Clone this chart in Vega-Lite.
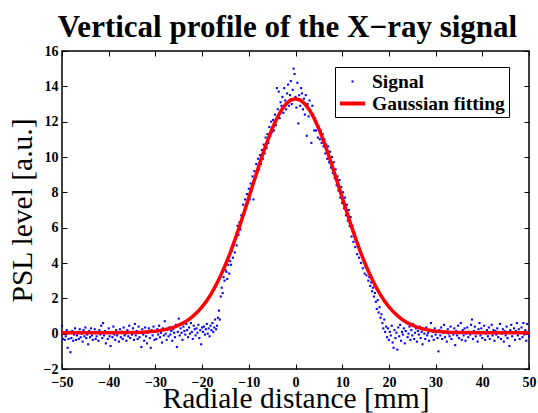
{
"$schema": "https://vega.github.io/schema/vega-lite/v6.json",
"width": 467, "height": 318,
"autosize": {"type": "none"},
"padding": {"left": 62, "top": 51, "right": 9, "bottom": 44},
"background": "white",
"title": {"text": "Vertical profile of the X−ray signal", "font": "Liberation Serif", "fontSize": 31, "fontWeight": "bold", "color": "black", "anchor": "middle", "dx": -8, "offset": 0},
"config": {
  "view": {"stroke": "black", "strokeWidth": 1.5},
  "axis": {"grid": false, "domain": false, "tickSize": -5, "tickColor": "black", "tickWidth": 1, "labelFont": "Liberation Serif", "labelFontSize": 14, "labelFontWeight": "bold", "labelColor": "black", "labelFlush": false, "labelOverlap": false, "titleFont": "Liberation Serif", "titleFontSize": 29.5, "titleFontWeight": "normal", "titleColor": "black"}
},
"datasets": {
"signal": [
{"x":-50,"y":0.45},{"x":-49.8,"y":-0.3},{"x":-49.6,"y":0.05},{"x":-49.4,"y":-0.35},{"x":-49.2,"y":-0.15},{"x":-49,"y":0.2},{"x":-48.8,"y":-0.8},{"x":-48.6,"y":-0.3},{"x":-48.4,"y":0.1},{"x":-48.2,"y":-1.05},
{"x":-48,"y":-0.25},{"x":-47.8,"y":0.15},{"x":-47.6,"y":-0.4},{"x":-47.4,"y":-0.05},{"x":-47.2,"y":0.3},{"x":-47,"y":-0.35},{"x":-46.8,"y":-0.1},{"x":-46.6,"y":0.1},{"x":-46.4,"y":-0.3},{"x":-46.2,"y":0.25},
{"x":-46,"y":-0.2},{"x":-45.8,"y":0},{"x":-45.6,"y":-0.45},{"x":-45.4,"y":0.2},{"x":-45.2,"y":-0.15},{"x":-45,"y":0.35},{"x":-44.8,"y":-0.25},{"x":-44.6,"y":-0.05},{"x":-44.4,"y":-0.6},{"x":-44.2,"y":0.15},
{"x":-44,"y":-0.2},{"x":-43.8,"y":0.3},{"x":-43.6,"y":-0.1},{"x":-43.4,"y":-0.35},{"x":-43.2,"y":0.05},{"x":-43,"y":0.25},{"x":-42.8,"y":-0.3},{"x":-42.6,"y":-0.15},{"x":-42.4,"y":0.1},{"x":-42.2,"y":-0.4},
{"x":-42,"y":0.2},{"x":-41.8,"y":-0.05},{"x":-41.6,"y":0.45},{"x":-41.4,"y":-0.25},{"x":-41.2,"y":0.6},{"x":-41,"y":-0.1},{"x":-40.8,"y":0.15},{"x":-40.6,"y":-0.55},{"x":-40.4,"y":0.05},{"x":-40.2,"y":-0.3},
{"x":-40,"y":0.3},{"x":-39.8,"y":-0.15},{"x":-39.6,"y":-0.7},{"x":-39.4,"y":0.1},{"x":-39.2,"y":-0.2},{"x":-39,"y":0.4},{"x":-38.8,"y":-0.05},{"x":-38.6,"y":-0.35},{"x":-38.4,"y":0.2},{"x":-38.2,"y":-0.1},
{"x":-38,"y":0.05},{"x":-37.8,"y":-0.45},{"x":-37.6,"y":0.25},{"x":-37.4,"y":-0.2},{"x":-37.2,"y":0.1},{"x":-37,"y":-0.3},{"x":-36.8,"y":0.35},{"x":-36.6,"y":-0.1},{"x":-36.4,"y":0},{"x":-36.2,"y":-0.4},
{"x":-36,"y":0.2},{"x":-35.8,"y":-0.15},{"x":-35.6,"y":0.45},{"x":-35.4,"y":-0.25},{"x":-35.2,"y":0.05},{"x":-35,"y":-0.05},{"x":-34.8,"y":0.3},{"x":-34.6,"y":-0.35},{"x":-34.4,"y":0.55},{"x":-34.2,"y":-0.1},
{"x":-34,"y":0.15},{"x":-33.8,"y":-0.3},{"x":-33.6,"y":0.4},{"x":-33.4,"y":-0.2},{"x":-33.2,"y":0.1},{"x":-33,"y":-0.75},{"x":-32.8,"y":0.25},{"x":-32.6,"y":-0.05},{"x":-32.4,"y":-0.4},{"x":-32.2,"y":0.35},
{"x":-32,"y":-0.15},{"x":-31.8,"y":-0.55},{"x":-31.6,"y":0.05},{"x":-31.4,"y":0.3},{"x":-31.2,"y":-0.25},{"x":-31,"y":-0.8},{"x":-30.8,"y":0.2},{"x":-30.6,"y":-0.1},{"x":-30.4,"y":0.4},{"x":-30.2,"y":-0.35},
{"x":-30,"y":0.1},{"x":-29.8,"y":-0.3},{"x":-29.6,"y":0.25},{"x":-29.4,"y":-0.05},{"x":-29.2,"y":0.45},{"x":-29,"y":-0.2},{"x":-28.8,"y":0.05},{"x":-28.6,"y":-0.5},{"x":-28.4,"y":0.3},{"x":-28.2,"y":-0.1},
{"x":-28,"y":0.7},{"x":-27.8,"y":0},{"x":-27.6,"y":-0.35},{"x":-27.4,"y":0.2},{"x":-27.2,"y":-0.15},{"x":-27,"y":0.35},{"x":-26.8,"y":-0.05},{"x":-26.6,"y":0.15},{"x":-26.4,"y":-0.4},{"x":-26.2,"y":0.25},
{"x":-26,"y":0.05},{"x":-25.8,"y":-0.2},{"x":-25.6,"y":0.5},{"x":-25.4,"y":-0.75},{"x":-25.2,"y":0.1},
{"x":-25,"y":0.85},{"x":-24.8,"y":-0.1},{"x":-24.6,"y":0.3},{"x":-24.4,"y":0.05},{"x":-24.2,"y":-0.35},{"x":-24,"y":0.4},{"x":-23.8,"y":0.15},{"x":-23.6,"y":-0.05},{"x":-23.4,"y":0.55},{"x":-23.2,"y":0.2},
{"x":-23,"y":-0.2},{"x":-22.8,"y":0.35},{"x":-22.6,"y":0},{"x":-22.4,"y":0.6},{"x":-22.2,"y":0.1},{"x":-22,"y":-0.3},{"x":-21.8,"y":0.45},{"x":-21.6,"y":0.25},{"x":-21.4,"y":-0.1},{"x":-21.2,"y":0.3},
{"x":-21,"y":0.05},{"x":-20.8,"y":0.5},{"x":-20.6,"y":-0.25},{"x":-20.4,"y":0.2},{"x":-20.2,"y":-0.6},{"x":-20,"y":0.35},{"x":-19.8,"y":0.1},{"x":-19.6,"y":0.4},{"x":-19.4,"y":-0.05},{"x":-19.2,"y":0.25},
{"x":-19,"y":0.55},{"x":-18.8,"y":0},{"x":-18.6,"y":0.3},{"x":-18.4,"y":-0.15},{"x":-18.2,"y":0.45},{"x":-18,"y":0.2},{"x":-17.8,"y":0.6},{"x":-17.6,"y":0.1},{"x":-17.4,"y":0.35},{"x":-17.2,"y":0.8},
{"x":-17,"y":0.25},
{"x":-16.8,"y":0.45},{"x":-16.6,"y":0.9},{"x":-16.4,"y":1.3},{"x":-16.2,"y":0.8},{"x":-16,"y":2.1},{"x":-15.8,"y":2.6},{"x":-15.6,"y":2.3},{"x":-15.4,"y":3.2},{"x":-15.2,"y":3.0},{"x":-15,"y":3.6},
{"x":-14.8,"y":3.5},{"x":-14.6,"y":3.1},{"x":-14.4,"y":3.9},{"x":-14.2,"y":3.4},{"x":-14,"y":4.1},{"x":-13.8,"y":3.9},{"x":-13.6,"y":4.7},{"x":-13.4,"y":4.3},{"x":-13.2,"y":5.0},{"x":-13,"y":4.6},
{"x":-12.8,"y":5.4},{"x":-12.6,"y":5.0},{"x":-12.4,"y":6.1},{"x":-12.2,"y":5.6},{"x":-12,"y":6.3},{"x":-11.8,"y":5.9},{"x":-11.6,"y":6.7},{"x":-11.4,"y":6.6},{"x":-11.2,"y":7.3},{"x":-11,"y":6.8},
{"x":-10.8,"y":7.6},{"x":-10.6,"y":7.1},{"x":-10.4,"y":7.9},{"x":-10.2,"y":7.4},{"x":-10,"y":8.2},{"x":-9.8,"y":7.6},{"x":-9.6,"y":8.5},{"x":-9.4,"y":8.1},{"x":-9.2,"y":8.9},{"x":-9,"y":7.6},
{"x":-8.8,"y":9.2},{"x":-8.6,"y":8.8},{"x":-8.4,"y":9.6},{"x":-8.2,"y":9.1},{"x":-8,"y":9.9},{"x":-7.8,"y":9.3},{"x":-7.6,"y":10.1},{"x":-7.4,"y":9.6},{"x":-7.2,"y":10.4},{"x":-7,"y":9.9},
{"x":-6.8,"y":10.7},{"x":-6.6,"y":10.2},{"x":-6.4,"y":11.1},{"x":-6.2,"y":10.5},{"x":-6,"y":11.3},{"x":-5.8,"y":10.8},{"x":-5.6,"y":11.7},{"x":-5.4,"y":11.2},{"x":-5.2,"y":12.0},{"x":-5,"y":11.4},
{"x":-4.8,"y":12.1},{"x":-4.6,"y":11.5},{"x":-4.4,"y":12.4},{"x":-4.2,"y":11.8},{"x":-4,"y":13.9},{"x":-3.8,"y":12.7},{"x":-3.6,"y":13.7},{"x":-3.4,"y":12.2},{"x":-3.2,"y":13.1},{"x":-3,"y":12.9},
{"x":-2.8,"y":13.4},{"x":-2.6,"y":12.5},{"x":-2.4,"y":13.9},{"x":-2.2,"y":13.2},{"x":-2,"y":12.7},{"x":-1.8,"y":13.6},{"x":-1.6,"y":14.1},{"x":-1.4,"y":12.9},{"x":-1.2,"y":13.5},{"x":-1,"y":14.3},
{"x":-0.8,"y":13.0},{"x":-0.6,"y":13.8},{"x":-0.4,"y":15.0},{"x":-0.2,"y":14.7},{"x":0,"y":13.4},{"x":0.2,"y":12.8},{"x":0.4,"y":14.2},{"x":0.6,"y":11.9},{"x":0.8,"y":13.5},{"x":1,"y":12.9},
{"x":1.2,"y":13.9},{"x":1.4,"y":13.6},{"x":1.6,"y":12.7},{"x":1.8,"y":13.3},{"x":2,"y":12.4},{"x":2.2,"y":13.5},{"x":2.4,"y":11.2},{"x":2.6,"y":13.0},{"x":2.8,"y":12.3},{"x":3,"y":13.2},
{"x":3.2,"y":12.6},{"x":3.4,"y":10.8},{"x":3.6,"y":12.9},{"x":3.8,"y":12.4},{"x":4,"y":11.5},{"x":4.2,"y":12.2},{"x":4.4,"y":11.5},{"x":4.6,"y":11.9},{"x":4.8,"y":11.1},{"x":5,"y":11.7},
{"x":5.2,"y":11.0},{"x":5.4,"y":11.5},{"x":5.6,"y":10.8},{"x":5.8,"y":11.3},{"x":6,"y":10.6},{"x":6.2,"y":11.0},{"x":6.4,"y":10.2},{"x":6.6,"y":10.7},{"x":6.8,"y":9.9},{"x":7,"y":10.6},
{"x":7.2,"y":9.7},{"x":7.4,"y":10.3},{"x":7.6,"y":9.4},{"x":7.8,"y":10.0},{"x":8,"y":9.1},{"x":8.2,"y":9.7},{"x":8.4,"y":8.8},{"x":8.6,"y":9.3},{"x":8.8,"y":8.4},{"x":9,"y":8.9},
{"x":9.2,"y":8.1},{"x":9.4,"y":8.7},{"x":9.6,"y":7.7},{"x":9.8,"y":8.3},{"x":10,"y":7.4},{"x":10.2,"y":8.0},{"x":10.4,"y":7.1},{"x":10.6,"y":7.7},{"x":10.8,"y":6.7},{"x":11,"y":7.3},
{"x":11.2,"y":6.4},{"x":11.4,"y":7.0},{"x":11.6,"y":6.1},{"x":11.8,"y":6.6},{"x":12,"y":5.5},{"x":12.2,"y":6.1},{"x":12.4,"y":5.2},{"x":12.6,"y":5.7},{"x":12.8,"y":4.9},{"x":13,"y":5.4},
{"x":13.2,"y":4.5},{"x":13.4,"y":5.1},{"x":13.6,"y":4.3},{"x":13.8,"y":4.8},{"x":14,"y":4.0},{"x":14.2,"y":4.5},{"x":14.4,"y":3.7},{"x":14.6,"y":4.1},{"x":14.8,"y":3.4},{"x":15,"y":3.8},
{"x":15.2,"y":3.3},{"x":15.4,"y":3.6},{"x":15.6,"y":3.0},{"x":15.8,"y":3.2},{"x":16,"y":2.7},{"x":16.2,"y":2.9},{"x":16.4,"y":2.4},{"x":16.6,"y":2.6},{"x":16.8,"y":2.1},{"x":17,"y":2.3},
{"x":17.2,"y":1.8},{"x":17.4,"y":1.4},{"x":17.6,"y":1.9},{"x":17.8,"y":1.2},{"x":18,"y":1.5},{"x":18.2,"y":0.9},{"x":18.4,"y":1.1},{"x":18.6,"y":0.6},{"x":18.8,"y":0.3},{"x":19,"y":0.8},
{"x":19.2,"y":0.1},{"x":19.4,"y":0.4},{"x":19.6,"y":-0.2},
{"x":19.8,"y":0.3},{"x":20,"y":-0.35},{"x":20.2,"y":0.1},{"x":20.4,"y":-0.1},{"x":20.6,"y":0.45},{"x":20.8,"y":-0.5},{"x":21,"y":-0.8},{"x":21.2,"y":0.2},{"x":21.4,"y":-0.25},{"x":21.6,"y":0.05},
{"x":21.8,"y":-0.9},{"x":22,"y":0.35},{"x":22.2,"y":-0.15},{"x":22.4,"y":0.5},{"x":22.6,"y":-0.4},{"x":22.8,"y":0.1},{"x":23,"y":-0.05},{"x":23.2,"y":0.3},{"x":23.4,"y":-0.55},{"x":23.6,"y":0.15},
{"x":23.8,"y":0.6},{"x":24,"y":-0.2},{"x":24.2,"y":0},{"x":24.4,"y":0.4},{"x":24.6,"y":-0.35},{"x":24.8,"y":0.2},{"x":25,"y":-0.1},{"x":25.2,"y":0.55},{"x":25.4,"y":-0.3},{"x":25.6,"y":0.05},
{"x":25.8,"y":0.3},{"x":26,"y":-0.45},{"x":26.2,"y":0.15},{"x":26.4,"y":-0.05},{"x":26.6,"y":0.4},{"x":26.8,"y":-0.25},{"x":27,"y":0.1},{"x":27.2,"y":-0.6},{"x":27.4,"y":0.25},{"x":27.6,"y":0},
{"x":27.8,"y":-0.3},{"x":28,"y":0.35},{"x":28.2,"y":-0.1},{"x":28.4,"y":0.05},{"x":28.6,"y":-0.4},{"x":28.8,"y":0.2},{"x":29,"y":0.6},{"x":29.2,"y":-0.15},{"x":29.4,"y":0.1},{"x":29.6,"y":-0.35},
{"x":29.8,"y":0.3},{"x":30,"y":-0.05},{"x":30.2,"y":0.15},{"x":30.4,"y":-0.25},{"x":30.6,"y":-1.0},{"x":30.8,"y":0.2},{"x":31,"y":-0.1},{"x":31.2,"y":0.35},{"x":31.4,"y":-0.3},{"x":31.6,"y":0.05},
{"x":31.8,"y":0.5},{"x":32,"y":-0.2},{"x":32.2,"y":0.1},{"x":32.4,"y":-0.45},{"x":32.6,"y":0.25},{"x":32.8,"y":0},{"x":33,"y":-0.15},{"x":33.2,"y":0.4},{"x":33.4,"y":-0.3},{"x":33.6,"y":0.1},
{"x":33.8,"y":-0.05},{"x":34,"y":0.3},{"x":34.2,"y":-0.65},{"x":34.4,"y":0.15},{"x":34.6,"y":-0.1},{"x":34.8,"y":0.45},{"x":35,"y":-0.25},{"x":35.2,"y":0.05},{"x":35.4,"y":0.6},{"x":35.6,"y":-0.35},
{"x":35.8,"y":0.2},{"x":36,"y":-0.1},{"x":36.2,"y":0.3},{"x":36.4,"y":-0.4},{"x":36.6,"y":0},{"x":36.8,"y":0.35},{"x":37,"y":-0.2},{"x":37.2,"y":0.1},{"x":37.4,"y":-0.05},{"x":37.6,"y":0.5},
{"x":37.8,"y":0.8},{"x":38,"y":-0.3},{"x":38.2,"y":0.15},{"x":38.4,"y":0.4},{"x":38.6,"y":-0.15},{"x":38.8,"y":0.05},{"x":39,"y":-0.45},{"x":39.2,"y":0.25},{"x":39.4,"y":0.6},{"x":39.6,"y":-0.1},
{"x":39.8,"y":0.3},{"x":40,"y":-0.25},{"x":40.2,"y":0.1},{"x":40.4,"y":0.45},{"x":40.6,"y":-0.35},{"x":40.8,"y":0},{"x":41,"y":0.2},{"x":41.2,"y":-0.15},{"x":41.4,"y":0.35},{"x":41.6,"y":-0.3},
{"x":41.8,"y":0.05},{"x":42,"y":0.5},{"x":42.2,"y":-0.1},{"x":42.4,"y":0.2},{"x":42.6,"y":-0.4},{"x":42.8,"y":0.15},{"x":43,"y":-0.05},{"x":43.2,"y":0.3},{"x":43.4,"y":-0.2},{"x":43.6,"y":0.1},
{"x":43.8,"y":0.55},{"x":44,"y":-0.3},{"x":44.2,"y":0},{"x":44.4,"y":0.25},{"x":44.6,"y":-0.45},{"x":44.8,"y":0.15},{"x":45,"y":-0.1},{"x":45.2,"y":0.4},{"x":45.4,"y":-0.25},{"x":45.6,"y":0.1},
{"x":45.8,"y":-0.7},{"x":46,"y":0.2},{"x":46.2,"y":0.5},{"x":46.4,"y":-0.15},{"x":46.6,"y":0.05},{"x":46.8,"y":0.3},{"x":47,"y":-0.35},{"x":47.2,"y":0.15},{"x":47.4,"y":0.6},{"x":47.6,"y":-0.1},
{"x":47.8,"y":0.25},{"x":48,"y":-0.3},{"x":48.2,"y":0.05},{"x":48.4,"y":0.35},{"x":48.6,"y":-0.2},{"x":48.8,"y":0.6},{"x":49,"y":-0.05},{"x":49.2,"y":0.2},{"x":49.4,"y":-0.4},{"x":49.6,"y":0.55},
{"x":49.8,"y":0.1},{"x":50,"y":-0.15}
],
"fit": [
{"x":-50,"y":0.05},{"x":-49,"y":0.05},{"x":-48,"y":0.05},{"x":-47,"y":0.05},{"x":-46,"y":0.05},{"x":-45,"y":0.05},{"x":-44,"y":0.05},{"x":-43,"y":0.05},{"x":-42,"y":0.05},{"x":-41,"y":0.05},
{"x":-40,"y":0.05},{"x":-39,"y":0.05},{"x":-38,"y":0.05},{"x":-37,"y":0.06},{"x":-36,"y":0.06},{"x":-35,"y":0.07},{"x":-34,"y":0.07},{"x":-33,"y":0.08},{"x":-32,"y":0.10},{"x":-31,"y":0.12},
{"x":-30,"y":0.14},{"x":-29,"y":0.18},{"x":-28,"y":0.23},{"x":-27,"y":0.29},{"x":-26,"y":0.37},{"x":-25,"y":0.48},{"x":-24,"y":0.61},{"x":-23,"y":0.77},{"x":-22,"y":0.98},{"x":-21,"y":1.22},
{"x":-20,"y":1.52},{"x":-19,"y":1.87},{"x":-18,"y":2.28},{"x":-17,"y":2.76},{"x":-16,"y":3.30},{"x":-15,"y":3.90},{"x":-14,"y":4.56},{"x":-13,"y":5.29},{"x":-12,"y":6.06},{"x":-11,"y":6.87},
{"x":-10,"y":7.70},{"x":-9,"y":8.54},{"x":-8,"y":9.37},{"x":-7,"y":10.17},{"x":-6,"y":10.92},{"x":-5,"y":11.60},{"x":-4,"y":12.18},{"x":-3,"y":12.66},{"x":-2,"y":13.01},{"x":-1,"y":13.23},
{"x":0,"y":13.30},
{"x":1,"y":13.23},{"x":2,"y":13.01},{"x":3,"y":12.66},{"x":4,"y":12.18},{"x":5,"y":11.60},{"x":6,"y":10.92},{"x":7,"y":10.17},{"x":8,"y":9.37},{"x":9,"y":8.54},{"x":10,"y":7.70},
{"x":11,"y":6.87},{"x":12,"y":6.06},{"x":13,"y":5.29},{"x":14,"y":4.56},{"x":15,"y":3.90},{"x":16,"y":3.30},{"x":17,"y":2.76},{"x":18,"y":2.28},{"x":19,"y":1.87},{"x":20,"y":1.52},
{"x":21,"y":1.22},{"x":22,"y":0.98},{"x":23,"y":0.77},{"x":24,"y":0.61},{"x":25,"y":0.48},{"x":26,"y":0.37},{"x":27,"y":0.29},{"x":28,"y":0.23},{"x":29,"y":0.18},{"x":30,"y":0.14},
{"x":31,"y":0.12},{"x":32,"y":0.10},{"x":33,"y":0.08},{"x":34,"y":0.07},{"x":35,"y":0.07},{"x":36,"y":0.06},{"x":37,"y":0.06},{"x":38,"y":0.05},{"x":39,"y":0.05},{"x":40,"y":0.05},
{"x":41,"y":0.05},{"x":42,"y":0.05},{"x":43,"y":0.05},{"x":44,"y":0.05},{"x":45,"y":0.05},{"x":46,"y":0.05},{"x":47,"y":0.05},{"x":48,"y":0.05},{"x":49,"y":0.05},{"x":50,"y":0.05}
]
},
"layer": [
{
  "data": {"name": "signal"},
  "mark": {"type": "point", "filled": true, "size": 441, "opacity": 1, "strokeWidth": 0},
  "encoding": {
    "x": {"field": "x", "type": "quantitative", "scale": {"domain": [-50, 50], "nice": false, "zero": false},
      "axis": {"orient": "bottom", "values": [-50,-40,-30,-20,-10,0,10,20,30,40,50], "labelPadding": 11, "title": "Radiale distance [mm]", "titlePadding": -5}},
    "y": {"field": "y", "type": "quantitative", "scale": {"domain": [-2, 16], "nice": false, "zero": false},
      "axis": {"orient": "left", "values": [-2,0,2,4,6,8,10,12,14,16], "labelPadding": 9, "title": "PSL level [a.u.]", "titlePadding": 6}},
    "shape": {"datum": "Signal", "type": "nominal",
      "scale": {"domain": ["Signal", "Gaussian fitting"], "range": ["M-0.1,-0.1H0.1V0.1H-0.1Z", "M-1.2,-0.19H1.2V0.19H-1.2Z"]},
      "legend": {"title": null, "orient": "none", "legendX": 273, "legendY": 16}},
    "color": {"datum": "Signal", "type": "nominal",
      "scale": {"domain": ["Signal", "Gaussian fitting"], "range": ["#0000ff", "#ff0000"]},
      "legend": {"title": null, "orient": "none", "legendX": 273, "legendY": 16, "fillColor": "white", "strokeColor": "black", "padding": 4,
        "labelFont": "Liberation Serif", "labelFontSize": 19.5, "labelFontWeight": "bold", "labelColor": "black", "labelOffset": 9, "rowPadding": 2,
        "symbolSize": 441, "symbolStrokeWidth": 0, "symbolOffset": 3, "symbolOpacity": 1,
        "encode": {"legend": {"strokeWidth": {"value": 1.5}}}}}
  }
},
{
  "data": {"name": "fit"},
  "mark": {"type": "line", "strokeWidth": 3.5},
  "encoding": {
    "x": {"field": "x", "type": "quantitative", "axis": null},
    "y": {"field": "y", "type": "quantitative", "axis": null},
    "color": {"datum": "Gaussian fitting", "type": "nominal", "legend": null}
  }
},
{
  "data": {"name": "fit"},
  "mark": {"type": "point", "opacity": 0},
  "encoding": {
    "x": {"field": "x", "type": "quantitative", "axis": {"orient": "top", "values": [-50,-40,-30,-20,-10,0,10,20,30,40,50], "labels": false, "title": null}},
    "y": {"field": "y", "type": "quantitative", "axis": {"orient": "right", "values": [-2,0,2,4,6,8,10,12,14,16], "labels": false, "title": null}}
  }
}
]
}
